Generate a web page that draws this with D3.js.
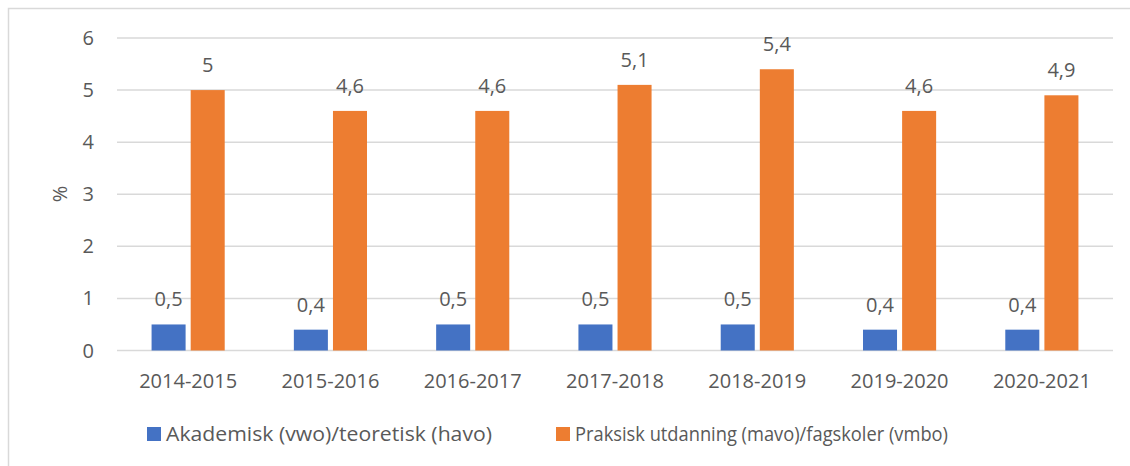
<!DOCTYPE html>
<html>
<head>
<meta charset="utf-8">
<script src="https://cdn.jsdelivr.net/npm/d3@7"></script>
<style>
  body { margin: 0; background: #fff; }
  text { font-family: "Open Sans", sans-serif; fill: #595959; }
</style>
</head>
<body>
<div id="chart-area"></div>
<script>
var years = ["2014-2015", "2015-2016", "2016-2017", "2017-2018", "2018-2019", "2019-2020", "2020-2021"];
var akademisk = [0.5, 0.4, 0.5, 0.5, 0.5, 0.4, 0.4];
var praksisk = [5, 4.6, 4.6, 5.1, 5.4, 4.6, 4.9];
var seriesNames = ["Akademisk (vwo)/teoretisk (havo)", "Praksisk utdanning (mavo)/fagskoler (vmbo)"];
var seriesColors = ["#4472C4", "#ED7D31"];
var yTicks = [0, 1, 2, 3, 4, 5, 6];

var W = 1130, H = 466;
var margin = { left: 117, right: 17, top: 38, bottom: 116 };
var width = W - margin.left - margin.right,
    height = H - margin.top - margin.bottom;

var svg = d3.select("#chart-area")
    .append("svg")
        .attr("width", W)
        .attr("height", H);

// chart border
svg.append("rect")
    .attr("x", 8.5).attr("y", 8.5)
    .attr("width", W + 10).attr("height", H + 10)
    .attr("fill", "none")
    .attr("stroke", "#d9d9d9")
    .attr("stroke-width", 1.5);

var g = svg.append("g")
    .attr("transform", "translate(" + margin.left + "," + margin.top + ")");

var x = d3.scaleBand().domain(years).range([0, width]);
var x1 = d3.scaleBand().domain([0, 1])
    .range([x.bandwidth() * 0.243, x.bandwidth() * 0.757])
    .paddingInner(0.13);
var y = d3.scaleLinear().domain([0, 6]).range([height + 0.5, 0]);

// gridlines
g.selectAll(".grid").data(yTicks).enter().append("line")
    .attr("x1", 0).attr("x2", width)
    .attr("y1", function(d) { return y(d); })
    .attr("y2", function(d) { return y(d); })
    .attr("stroke", "#d9d9d9")
    .attr("stroke-width", 1.5);

// y tick labels
g.selectAll(".ytick").data(yTicks).enter().append("text")
    .attr("x", -23)
    .attr("y", function(d) { return y(d); })
    .attr("dy", "0.35em")
    .attr("text-anchor", "end")
    .attr("font-size", "20px")
    .text(function(d) { return d; });

// y label
g.append("text")
    .attr("transform", "translate(-57," + (height / 2) + ") rotate(-90)")
    .attr("text-anchor", "middle")
    .attr("dy", "0.35em")
    .attr("font-size", "20px")
    .text("%");

var series = [akademisk, praksisk];
series.forEach(function(vals, s) {
    var grp = g.append("g");
    grp.selectAll("rect").data(vals).enter().append("rect")
        .attr("x", function(d, i) { return x(years[i]) + x1(s); })
        .attr("width", x1.bandwidth())
        .attr("y", function(d) { return y(d); })
        .attr("height", function(d) { return y(0) - y(d); })
        .attr("fill", seriesColors[s]);
    grp.selectAll("text").data(vals).enter().append("text")
        .attr("x", function(d, i) { return x(years[i]) + x1(s) + x1.bandwidth() / 2; })
        .attr("y", function(d) { return y(d) - 18; })
        .attr("text-anchor", "middle")
        .attr("font-size", "20px")
        .text(function(d) { return String(d).replace(".", ","); });
});

// x labels
g.selectAll(".xtick").data(years).enter().append("text")
    .attr("x", function(d) { return x(d) + x.bandwidth() / 2; })
    .attr("y", height + 38)
    .attr("text-anchor", "middle")
    .attr("font-size", "20px")
    .text(function(d) { return d; });

// legend
var legendX = [147, 556];
var legendW = [326, 373];
seriesNames.forEach(function(name, i) {
    var row = svg.append("g")
        .attr("transform", "translate(" + legendX[i] + ",427)");
    row.append("rect")
        .attr("width", 14).attr("height", 14)
        .attr("fill", seriesColors[i]);
    row.append("text")
        .attr("x", 19).attr("y", 14)
        .attr("font-size", "20px")
        .attr("textLength", legendW[i])
        .attr("lengthAdjust", "spacingAndGlyphs")
        .text(name);
});
</script>
</body>
</html>
